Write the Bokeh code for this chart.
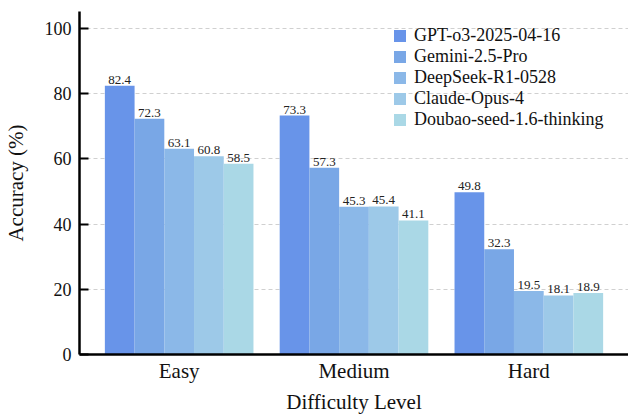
from bokeh.plotting import figure
from bokeh.models import FactorRange, ColumnDataSource, Legend, LegendItem, FixedTicker
from bokeh.transform import dodge
from bokeh.core.properties import value
from bokeh.embed import file_html
from bokeh.resources import INLINE

levels = ["Easy", "Medium", "Hard"]
models = ["GPT-o3-2025-04-16", "Gemini-2.5-Pro", "DeepSeek-R1-0528", "Claude-Opus-4", "Doubao-seed-1.6-thinking"]
gpt_o3 = [82.4, 73.3, 49.8]
gemini = [72.3, 57.3, 32.3]
deepseek = [63.1, 45.3, 19.5]
claude = [60.8, 45.4, 18.1]
doubao = [58.5, 41.1, 18.9]
y_ticks = [0, 20, 40, 60, 80, 100]

series = [gpt_o3, gemini, deepseek, claude, doubao]
colors = ["#6894E9", "#79A7E6", "#8BB8E8", "#9DC9E8", "#AAD8E6"]
FONT = "Liberation Serif"

p = figure(x_range=FactorRange(factors=levels, range_padding=0.0467),
           y_range=(0, 105.2), width=628, height=416,
           output_backend="svg", toolbar_location=None,
           min_border_left=79, min_border_right=0, min_border_top=11, min_border_bottom=62)

src = ColumnDataSource(dict(level=levels, **{f"s{i}": s for i, s in enumerate(series)},
                            **{f"t{i}": [f"{v:.1f}" for v in s] for i, s in enumerate(series)}))

bw = 0.17
items = []
for i, (name, col) in enumerate(zip(models, colors)):
    off = (i - 2) * bw
    r = p.vbar(x=dodge("level", off, range=p.x_range), top=f"s{i}", width=bw,
               source=src, fill_color=col, line_color=None)
    p.text(x=dodge("level", off, range=p.x_range), y=f"s{i}", text=f"t{i}", source=src,
           text_font=value(FONT), text_font_size="13px", text_color="#222222",
           text_align="center", text_baseline="bottom", y_offset=-2)
    items.append(LegendItem(label=name, renderers=[r]))

legend = Legend(items=items, location=(313, 224), padding=0, margin=0, spacing=0,
                glyph_width=15, glyph_height=15, label_height=21, label_standoff=7,
                label_text_font=FONT, label_text_font_size="18px", label_text_color="#111111",
                border_line_color=None, background_fill_alpha=0)
p.add_layout(legend)

p.outline_line_color = None
p.xgrid.grid_line_color = None
p.ygrid.grid_line_color = "#d0d0d0"
p.ygrid.grid_line_dash = "4 3"
p.ygrid.grid_line_width = 1
p.ygrid.ticker = FixedTicker(ticks=y_ticks[1:])

xa = p.xaxis[0]
ya = p.yaxis[0]
ya.ticker = FixedTicker(ticks=y_ticks)
ya.axis_label = "Accuracy (%)"
xa.axis_label = "Difficulty Level"
for ax, fnt in ((xa, "Times New Roman"), (ya, "serif")):
    ax.axis_line_width = 2.5
    ax.axis_line_color = "black"
    ax.major_tick_line_color = "black"
    ax.major_tick_line_width = 2
    ax.minor_tick_line_color = None
    ax.axis_label_text_font = fnt
    ax.axis_label_text_font_style = "normal"
    ax.axis_label_text_font_size = "21px"
    ax.axis_label_text_color = "#111111"
    ax.major_label_text_font = fnt
    ax.major_label_text_font_style = "normal"
    ax.major_label_text_color = "#111111"
ya.major_tick_in = 9
ya.major_tick_out = 0
ya.major_label_text_font_size = "18px"
ya.major_label_standoff = 8
ya.axis_label_standoff = 14
xa.major_tick_in = 0
xa.major_tick_out = 0
xa.major_label_text_font_size = "21px"
xa.major_label_standoff = 4
xa.axis_label_standoff = 4

open("out.html", "w").write(file_html(p, INLINE))
